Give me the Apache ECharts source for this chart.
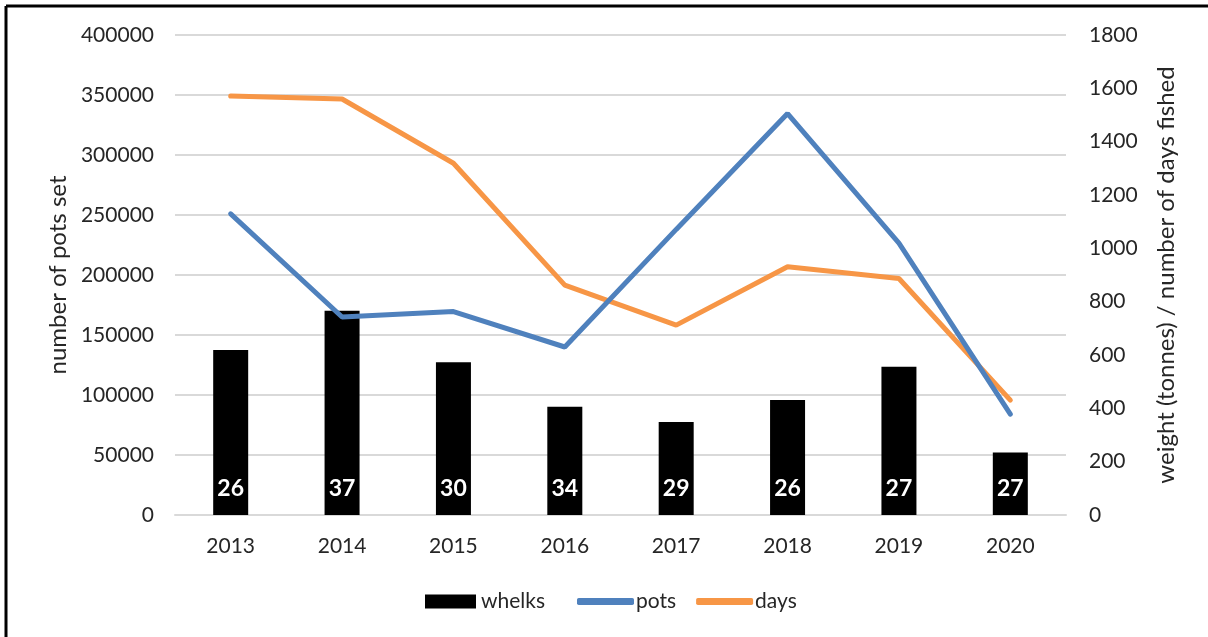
<!DOCTYPE html>
<html lang="en">
<head>
    <meta charset="UTF-8">
    <script src="https://cdn.jsdelivr.net/npm/echarts/dist/echarts.min.js"></script>
    <title>whelks, pots, days</title>
    <style>
        html, body { margin: 0; padding: 0; background: #fff; }
        #main { width: 1208px; height: 637px; }
    </style>
</head>
<body>
<div id="main"></div>
<script>
    // data
    var years = ['2013', '2014', '2015', '2016', '2017', '2018', '2019', '2020'];
    var whelks = [619, 766, 573, 406, 349, 431, 556, 234];      // tonnes (right axis)
    var vessels = [26, 37, 30, 34, 29, 26, 27, 27];             // numbers printed in the bars
    var pots = [251000, 165000, 169500, 140000, 238000, 334500, 226500, 84000]; // left axis
    var days = [1571, 1560, 1319, 862, 712, 931, 887, 431];     // right axis

    var font = 'Lato, "Open Sans", sans-serif';
    var txt = '#262626';
    var plain = function (v) { return String(v); };

    var chart = echarts.init(document.getElementById('main'));
    chart.setOption({
        animation: false,
        textStyle: { fontFamily: font },
        grid: { left: 175, right: 142, top: 35, bottom: 122 },
        legend: [
            {
                top: 586,
                left: 420,
                itemWidth: 51,
                itemHeight: 14,
                icon: 'rect',
                textStyle: { fontSize: 21, color: txt, fontFamily: font },
                data: ['whelks']
            },
            {
                top: 586,
                left: 572,
                itemGap: 20,
                itemWidth: 57,
                itemHeight: 7,
                icon: 'roundRect',
                textStyle: { fontSize: 21, color: txt, fontFamily: font, padding: [0, 0, 0, -3] },
                data: ['pots', 'days']
            }
        ],
        xAxis: {
            type: 'category',
            data: years,
            axisLine: { lineStyle: { color: '#d9d9d9', width: 2 } },
            axisTick: { show: false },
            axisLabel: { color: txt, fontSize: 21, margin: 21, fontFamily: font }
        },
        yAxis: [
            {
                type: 'value',
                min: 0, max: 400000, interval: 50000,
                name: 'number of pots set',
                nameLocation: 'middle',
                nameGap: 104,
                nameTextStyle: { fontSize: 24, color: txt, fontFamily: font },
                axisLine: { show: false },
                axisTick: { show: false },
                axisLabel: { color: txt, fontSize: 21, margin: 21, fontFamily: font, formatter: plain },
                splitLine: { lineStyle: { color: '#d9d9d9', width: 2 } }
            },
            {
                type: 'value',
                min: 0, max: 1800, interval: 200,
                name: 'weight (tonnes) / number of days fished',
                nameLocation: 'middle',
                nameGap: 88,
                nameTextStyle: { fontSize: 24, color: txt, fontFamily: font },
                axisLine: { show: false },
                axisTick: { show: false },
                axisLabel: { color: txt, fontSize: 21, margin: 23, fontFamily: font, formatter: plain },
                splitLine: { show: false }
            }
        ],
        series: [
            {
                name: 'whelks',
                type: 'bar',
                yAxisIndex: 1,
                barWidth: 35,
                itemStyle: { color: '#000000' },
                data: whelks.map(function (v, i) {
                    return { value: v, label: { formatter: String(vessels[i]) } };
                }),
                label: {
                    show: true,
                    position: 'insideBottom',
                    distance: 15,
                    color: '#ffffff',
                    fontWeight: 'bold',
                    fontSize: 23,
                    fontFamily: font
                },
                z: 1
            },
            {
                name: 'pots',
                type: 'line',
                yAxisIndex: 0,
                data: pots,
                symbol: 'none',
                lineStyle: { color: '#4f81bd', width: 5, cap: 'round' },
                itemStyle: { color: '#4f81bd' },
                z: 3
            },
            {
                name: 'days',
                type: 'line',
                yAxisIndex: 1,
                data: days,
                symbol: 'none',
                lineStyle: { color: '#f79646', width: 5, cap: 'round' },
                itemStyle: { color: '#f79646' },
                z: 2
            }
        ],
        graphic: [
            { type: 'line', shape: { x1: 6, y1: 6, x2: 1208, y2: 6 }, style: { stroke: '#000', lineWidth: 3 } },
            { type: 'line', shape: { x1: 6, y1: 6, x2: 6, y2: 637 }, style: { stroke: '#000', lineWidth: 3 } }
        ]
    });
</script>
</body>
</html>
